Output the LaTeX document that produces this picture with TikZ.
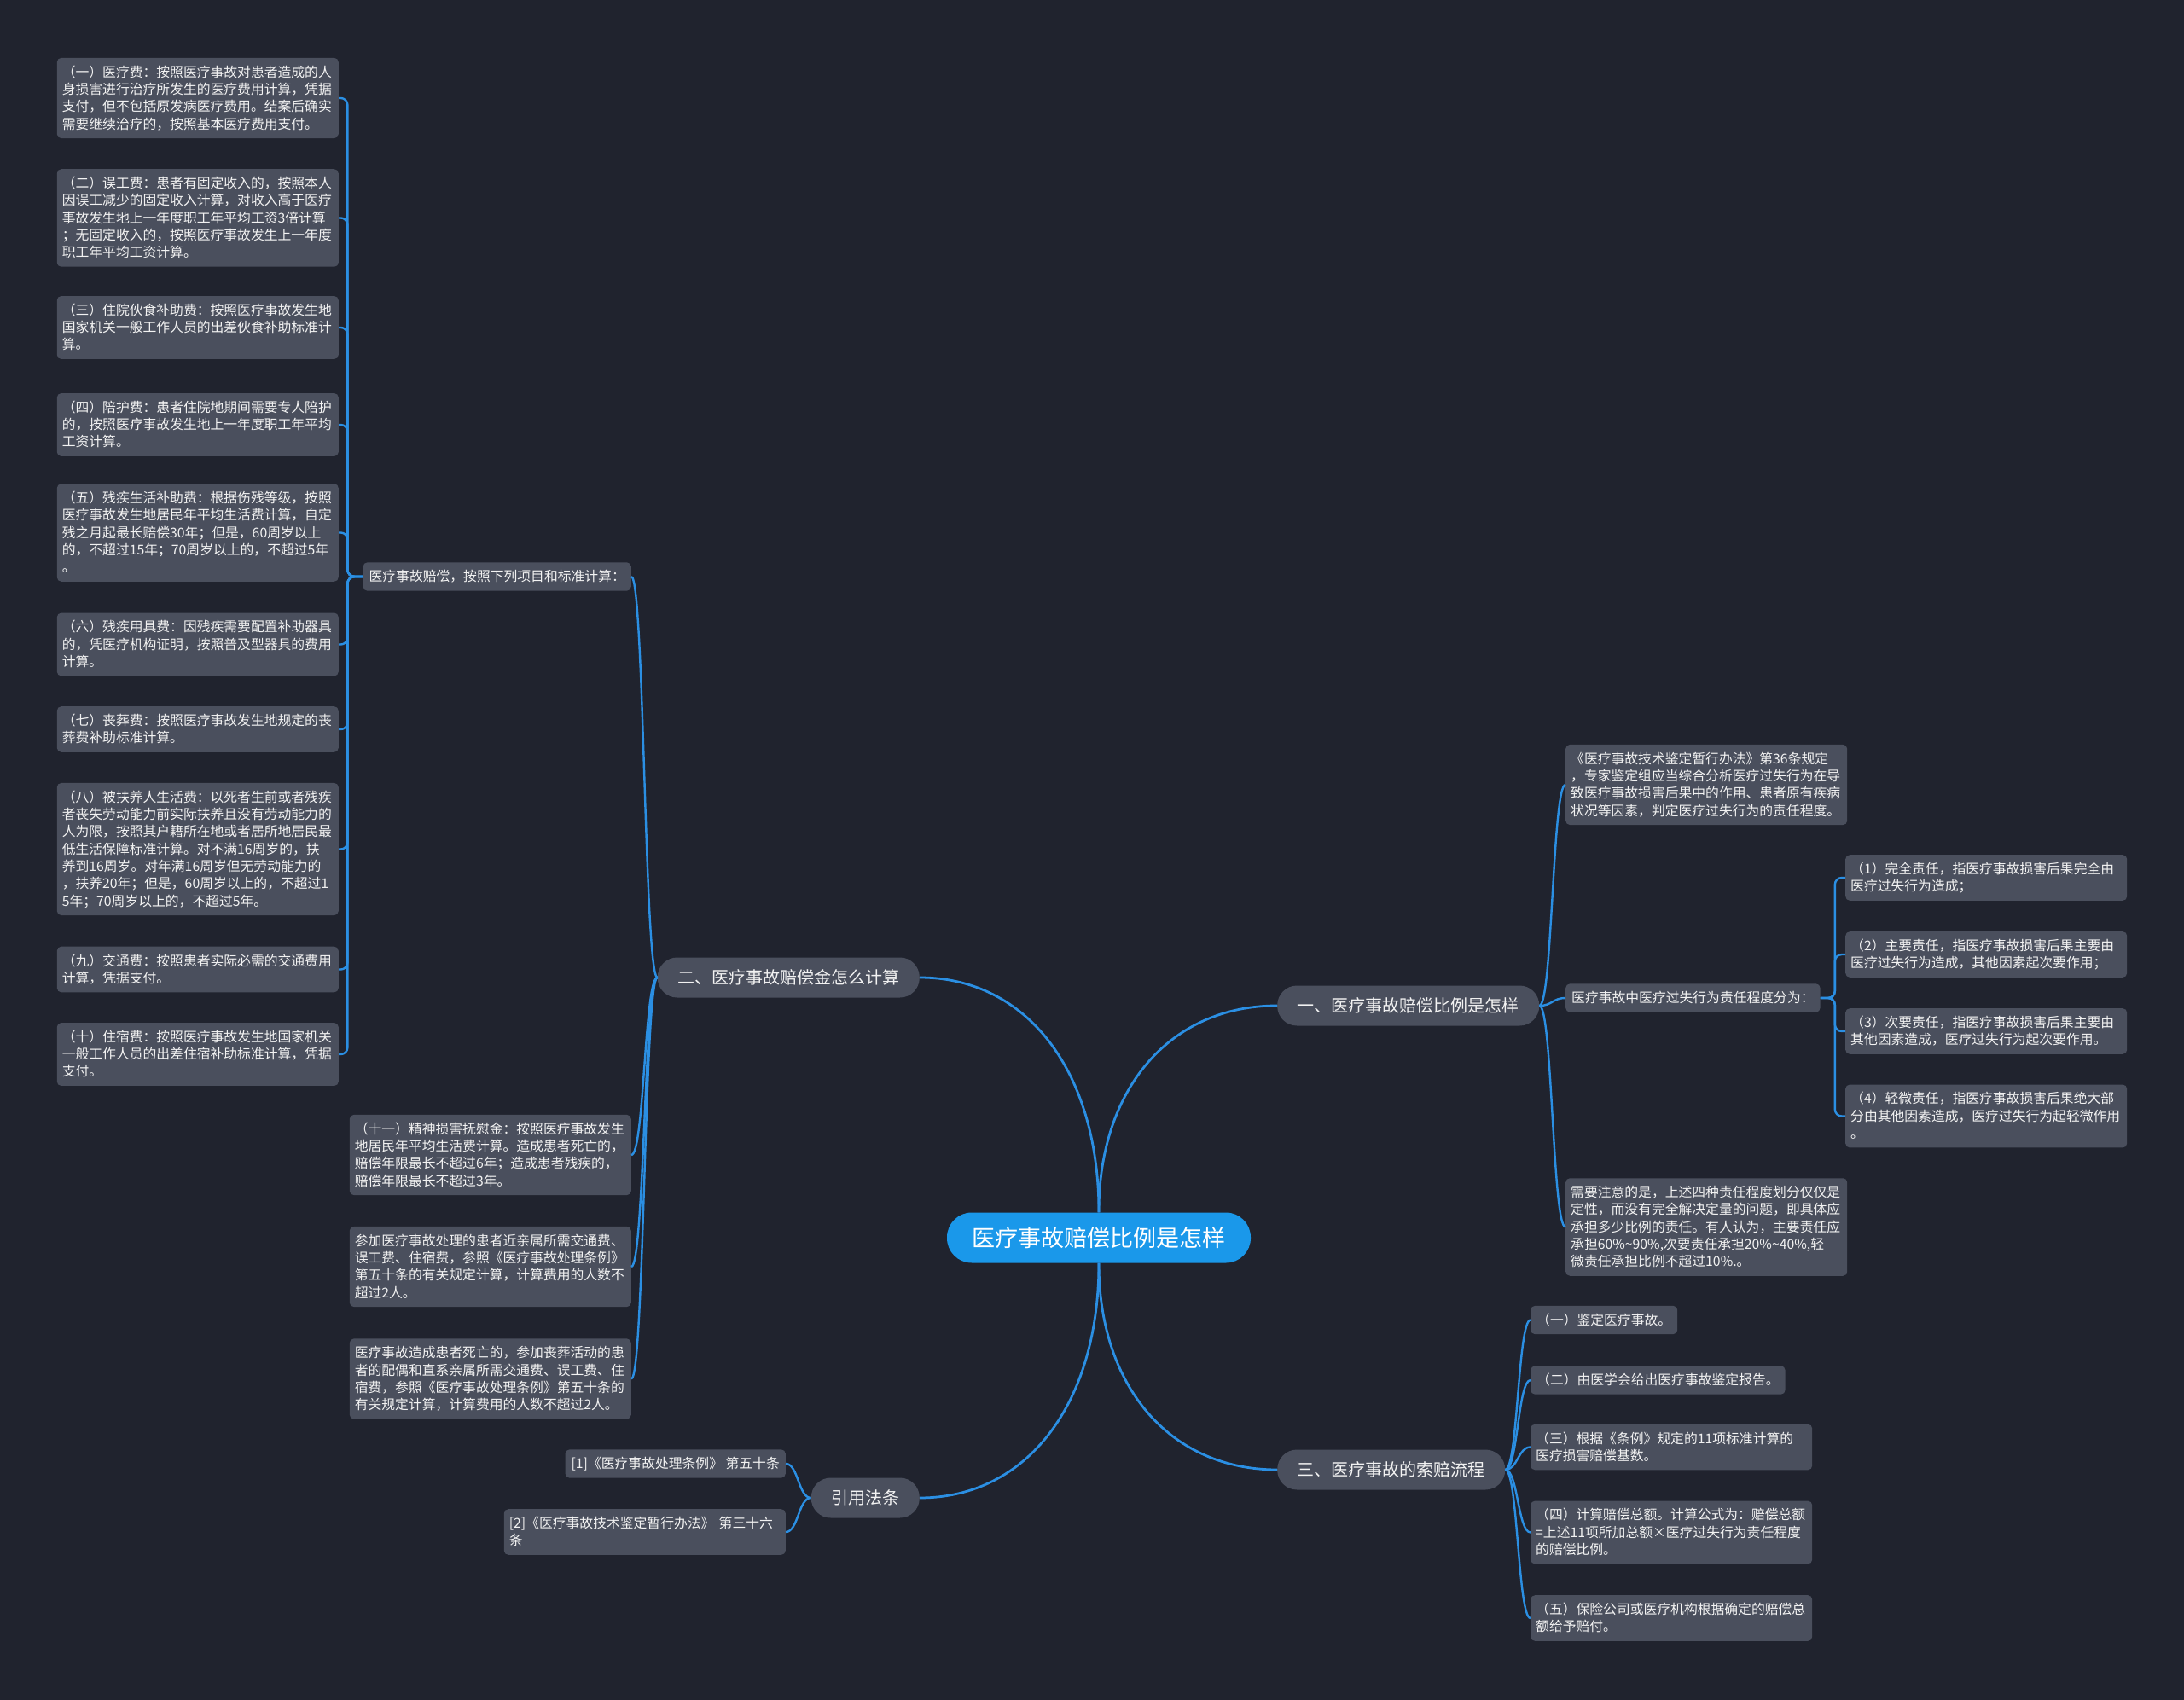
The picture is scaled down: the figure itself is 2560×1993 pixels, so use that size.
\documentclass[tikz,border=0pt]{standalone}
\usepackage{fontspec}
\setmainfont{Noto Sans CJK SC}
\usetikzlibrary{calc}
\definecolor{bgc}{HTML}{20232E}
\definecolor{boxc}{HTML}{4A4F5D}
\definecolor{linec}{HTML}{2B8FE3}
\definecolor{rootc}{HTML}{1A98EA}
\definecolor{txtc}{HTML}{F2F2F2}
\newcommand{\mystrut}{\vrule height 15.8pt depth 4.5pt width 0pt\relax}
\begin{document}
\begin{tikzpicture}[x=1pt,y=-1pt,
  box/.style={fill=boxc, text=txtc, rounded corners=5pt, inner xsep=7pt, inner ysep=6.5pt, align=left,
    font=\fontsize{15.8}{20.3}\selectfont, execute at begin node=\mystrut, execute at end node=\mystrut},
  wide/.style={box, text width=318pt, inner xsep=6pt},
  branch/.style={fill=boxc, text=txtc, rounded corners=23pt, minimum height=47pt, inner xsep=23.5pt,
    font=\fontsize{20}{24}\selectfont},
  rootnode/.style={fill=rootc, text=white, rounded corners=29pt, minimum height=59pt, inner xsep=29.5pt,
    font=\fontsize{27}{32}\selectfont},
  conn/.style={draw=linec, line width=2.4pt},
  curvy/.style={to path={let \p1=(\tikztostart), \p2=(\tikztotarget) in
    .. controls ({(\x1+\x2)/2},\y1) and ({(\x1+\x2)/2},\y2) .. (\tikztotarget)}},
  rootcurve/.style={to path={let \p1=(\tikztostart), \p2=(\tikztotarget) in
    .. controls (\x1,{\y1+0.6*(\y2-\y1)}) and ({\x1+0.4*(\x2-\x1)},\y2) .. (\tikztotarget)}}
]
\fill[bgc] (0,0) rectangle (2560,1993);

% root and branches
\node[rootnode] (root) at (1288,1451) {医疗事故赔偿比例是怎样};
\node[branch, anchor=west] (b1) at (1497,1179) {一、医疗事故赔偿比例是怎样};
\node[branch, anchor=east] (b2) at (1078,1146) {二、医疗事故赔偿金怎么计算};
\node[branch, anchor=west] (b3) at (1497,1723) {三、医疗事故的索赔流程};
\node[branch, anchor=east] (b4) at (1078,1756) {引用法条};

% branch 2 children
\node[box, anchor=east] (p) at (740,676) {医疗事故赔偿，按照下列项目和标准计算：};
\node[wide, anchor=east] (m1) at (740,1354) {（十一）精神损害抚慰金：按照医疗事故发生\\地居民年平均生活费计算。造成患者死亡的，\\赔偿年限最长不超过6年；造成患者残疾的，\\赔偿年限最长不超过3年。};
\node[wide, anchor=east] (m2) at (740,1485) {参加医疗事故处理的患者近亲属所需交通费、\\误工费、住宿费，参照《医疗事故处理条例》\\第五十条的有关规定计算，计算费用的人数不\\超过2人。};
\node[wide, anchor=east] (m3) at (740,1616.5) {医疗事故造成患者死亡的，参加丧葬活动的患\\者的配偶和直系亲属所需交通费、误工费、住\\宿费，参照《医疗事故处理条例》第五十条的\\有关规定计算，计算费用的人数不超过2人。};

% left column
\node[wide, anchor=east] (l1) at (397,115) {（一）医疗费：按照医疗事故对患者造成的人\\身损害进行治疗所发生的医疗费用计算，凭据\\支付，但不包括原发病医疗费用。结案后确实\\需要继续治疗的，按照基本医疗费用支付。};
\node[wide, anchor=east] (l2) at (397,255.5) {（二）误工费：患者有固定收入的，按照本人\\因误工减少的固定收入计算，对收入高于医疗\\事故发生地上一年度职工年平均工资3倍计算\\；无固定收入的，按照医疗事故发生上一年度\\职工年平均工资计算。};
\node[wide, anchor=east] (l3) at (397,384) {（三）住院伙食补助费：按照医疗事故发生地\\国家机关一般工作人员的出差伙食补助标准计\\算。};
\node[wide, anchor=east] (l4) at (397,498) {（四）陪护费：患者住院地期间需要专人陪护\\的，按照医疗事故发生地上一年度职工年平均\\工资计算。};
\node[wide, anchor=east] (l5) at (397,624.5) {（五）残疾生活补助费：根据伤残等级，按照\\医疗事故发生地居民年平均生活费计算，自定\\残之月起最长赔偿30年；但是，60周岁以上\\的，不超过15年；70周岁以上的，不超过5年\\。};
\node[wide, anchor=east] (l6) at (397,755.5) {（六）残疾用具费：因残疾需要配置补助器具\\的，凭医疗机构证明，按照普及型器具的费用\\计算。};
\node[wide, anchor=east] (l7) at (397,855) {（七）丧葬费：按照医疗事故发生地规定的丧\\葬费补助标准计算。};
\node[wide, anchor=east] (l8) at (397,995.5) {（八）被扶养人生活费：以死者生前或者残疾\\者丧失劳动能力前实际扶养且没有劳动能力的\\人为限，按照其户籍所在地或者居所地居民最\\低生活保障标准计算。对不满16周岁的，扶\\养到16周岁。对年满16周岁但无劳动能力的\\，扶养20年；但是，60周岁以上的，不超过1\\5年；70周岁以上的，不超过5年。};
\node[wide, anchor=east] (l9) at (397,1136.5) {（九）交通费：按照患者实际必需的交通费用\\计算，凭据支付。};
\node[wide, anchor=east] (l10) at (397,1236) {（十）住宿费：按照医疗事故发生地国家机关\\一般工作人员的出差住宿补助标准计算，凭据\\支付。};

% branch 1 children
\node[wide, anchor=west] (a) at (1835,920) {《医疗事故技术鉴定暂行办法》第36条规定\\，专家鉴定组应当综合分析医疗过失行为在导\\致医疗事故损害后果中的作用、患者原有疾病\\状况等因素，判定医疗过失行为的责任程度。};
\node[box, anchor=west] (b) at (1835,1170) {医疗事故中医疗过失行为责任程度分为：};
\node[wide, anchor=west] (c) at (1835,1438.5) {需要注意的是，上述四种责任程度划分仅仅是\\定性，而没有完全解决定量的问题，即具体应\\承担多少比例的责任。有人认为，主要责任应\\承担60\%\textasciitilde 90\%,次要责任承担20\%\textasciitilde 40\%,轻\\微责任承担比例不超过10\%.。};
\node[wide, anchor=west] (r1) at (2163,1029) {（1）完全责任，指医疗事故损害后果完全由\\医疗过失行为造成；};
\node[wide, anchor=west] (r2) at (2163,1119) {（2）主要责任，指医疗事故损害后果主要由\\医疗过失行为造成，其他因素起次要作用；};
\node[wide, anchor=west] (r3) at (2163,1209) {（3）次要责任，指医疗事故损害后果主要由\\其他因素造成，医疗过失行为起次要作用。};
\node[wide, anchor=west] (r4) at (2163,1308.5) {（4）轻微责任，指医疗事故损害后果绝大部\\分由其他因素造成，医疗过失行为起轻微作用\\。};

% branch 3 children
\node[box, anchor=west] (s1) at (1794,1547.5) {（一）鉴定医疗事故。};
\node[box, anchor=west] (s2) at (1794,1618) {（二）由医学会给出医疗事故鉴定报告。};
\node[wide, anchor=west] (s3) at (1794,1696.5) {（三）根据《条例》规定的11项标准计算的\\医疗损害赔偿基数。};
\node[wide, anchor=west] (s4) at (1794,1796.5) {（四）计算赔偿总额。计算公式为：赔偿总额\\=上述11项所加总额×医疗过失行为责任程度\\的赔偿比例。};
\node[wide, anchor=west] (s5) at (1794,1897) {（五）保险公司或医疗机构根据确定的赔偿总\\额给予赔付。};

% branch 4 children
\node[box, anchor=east] (f1) at (921,1716) {[1]《医疗事故处理条例》 第五十条};
\node[wide, anchor=east] (f2) at (921,1796) {[2]《医疗事故技术鉴定暂行办法》 第三十六\\条};

% root connectors
\draw[conn, line width=2.8pt] (root.north) to[rootcurve] (b1.west);
\draw[conn, line width=2.8pt] (root.north) to[rootcurve] (b2.east);
\draw[conn, line width=2.8pt] (root.south) to[rootcurve] (b3.west);
\draw[conn, line width=2.8pt] (root.south) to[rootcurve] (b4.east);

% curvy children
\foreach \nd in {p,m1,m2,m3} \draw[conn] (b2.west) to[curvy] (\nd.east);
\foreach \nd in {a,b,c} \draw[conn] (b1.east) to[curvy] (\nd.west);
\foreach \nd in {s1,s2,s3,s4,s5} \draw[conn] (b3.east) to[curvy] (\nd.west);
\foreach \nd in {f1,f2} \draw[conn] (b4.west) to[curvy] (\nd.east);

% elbows
\foreach \nd in {l1,l2,l3,l4,l5,l6,l7,l8,l9,l10} \draw[conn, rounded corners=8pt] (p.west) -- ++(-18,0) |- (\nd.east);
\foreach \nd in {r1,r2,r3,r4} \draw[conn, rounded corners=8pt] (b.east) -- ++(17,0) |- (\nd.west);
\end{tikzpicture}
\end{document}
